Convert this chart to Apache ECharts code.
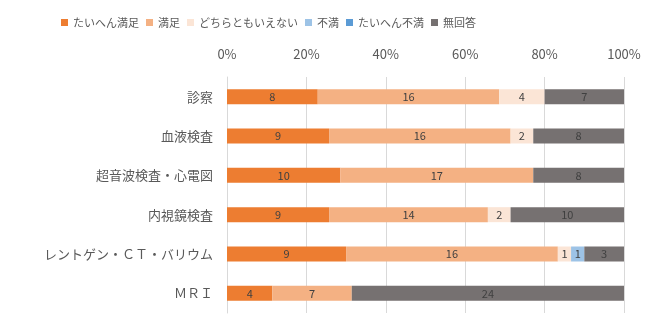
<!DOCTYPE html>
<html><head><meta charset="utf-8">
<script src="https://cdn.jsdelivr.net/npm/echarts@6/dist/echarts.min.js"></script>
<style>html,body{margin:0;padding:0;background:#fff}#c{width:659px;height:327px}</style>
</head><body><div id="c"></div>
<script>
const categories = ['診察','血液検査','超音波検査・心電図','内視鏡検査','レントゲン・ＣＴ・バリウム','ＭＲＩ'];
const seriesNames = ['たいへん満足','満足','どちらともいえない','不満','たいへん不満','無回答'];
const verySatisfied = [8,9,10,9,9,4];
const satisfied = [16,16,17,14,16,7];
const neutral = [4,2,0,2,1,0];
const dissatisfied = [0,0,0,0,1,0];
const veryDissatisfied = [0,0,0,0,0,0];
const noAnswer = [7,8,8,10,3,24];
const tickLabels = ['0%','20%','40%','60%','80%','100%'];
const colors = ['#ED7D31','#F4B183','#FBE5D6','#9DC3E6','#5B9BD5','#767171'];

const all = [verySatisfied,satisfied,neutral,dissatisfied,veryDissatisfied,noAnswer];
const totals = categories.map((_,i)=>all.reduce((s,a)=>s+a[i],0));
const font = '"Noto Sans CJK JP", sans-serif';
const chart = echarts.init(document.getElementById('c'));
chart.setOption({
  animation:false,
  color:colors,
  textStyle:{fontFamily:font},
  legend:{top:12,left:56,itemWidth:7,itemHeight:7,itemGap:7,icon:'rect',
    textStyle:{fontSize:11,color:'#595959',fontFamily:font},data:seriesNames},
  grid:{left:227,right:35,top:77,bottom:14},
  xAxis:{type:'value',position:'top',min:0,max:100,interval:20,
    axisLabel:{formatter:v=>tickLabels[v/20],color:'#595959',fontSize:13,fontFamily:font,margin:16},
    axisLine:{show:false},axisTick:{show:false},
    splitLine:{lineStyle:{color:'#d9d9d9',width:1}}},
  yAxis:{type:'category',inverse:true,data:categories,
    axisLine:{show:true,lineStyle:{color:'#d9d9d9'}},axisTick:{show:false},
    axisLabel:{color:'#595959',fontSize:13,fontFamily:font,margin:14}},
  series:all.map((arr,k)=>({
    name:seriesNames[k],type:'bar',stack:'t',barWidth:15,
    data:arr.map((v,i)=>({value:v/totals[i]*100,raw:v})),
    label:{show:true,position:'inside',fontSize:11,color:'#404040',fontFamily:font,
      formatter:p=>p.data.raw>0?String(p.data.raw):''},
  }))
});
</script></body></html>
